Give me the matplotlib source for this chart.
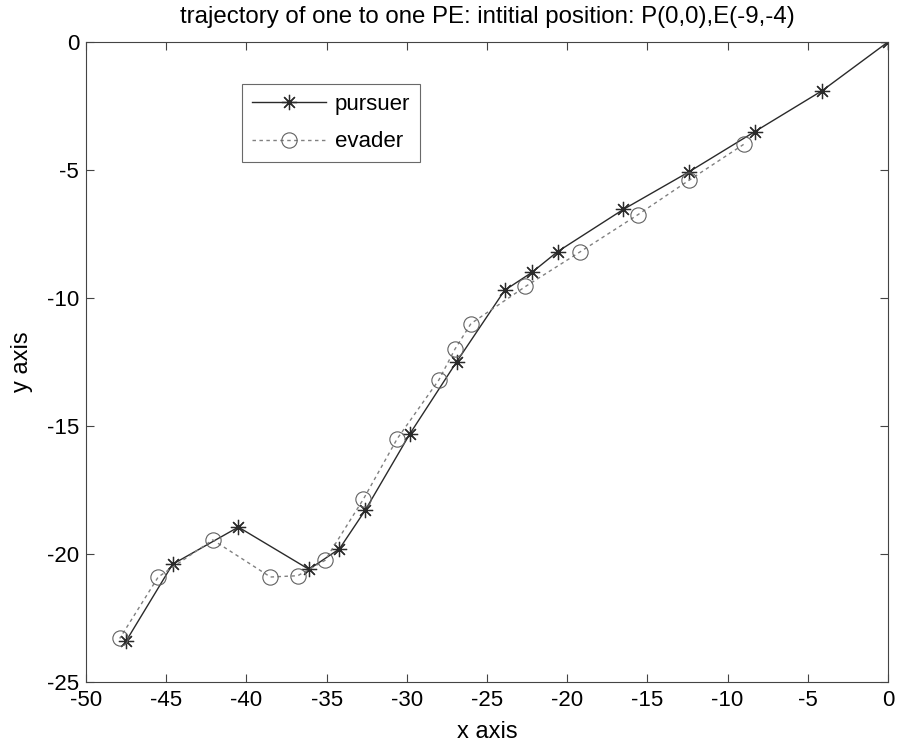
import numpy as np
import matplotlib.pyplot as plt

plt.rcParams['font.family'] = ['Liberation Sans', 'DejaVu Sans']
plt.rcParams['axes.unicode_minus'] = False

# pursuer trajectory, starting at P(0,0)
px = [0.0, -4.1, -8.3, -12.4, -16.5, -20.6, -22.2, -23.9, -26.9, -29.8,
      -32.6, -34.2, -36.1, -40.5, -44.6, -47.5]
py = [0.0, -1.9, -3.5, -5.07, -6.54, -8.19, -9.0, -9.7, -12.5, -15.3,
      -18.3, -19.8, -20.6, -18.95, -20.4, -23.4]

# evader trajectory, starting at E(-9,-4)
ex = [-9.0, -12.4, -15.6, -19.2, -22.6, -26.0, -27.0, -28.0, -30.6, -32.7,
      -35.1, -36.8, -38.5, -42.1, -45.5, -47.9]
ey = [-4.0, -5.4, -6.75, -8.2, -9.55, -11.0, -12.0, -13.2, -15.5, -17.85,
      -20.25, -20.85, -20.9, -19.45, -20.9, -23.3]

fig = plt.figure(figsize=(9, 7.49), dpi=100)
ax = fig.add_axes([0.0956, 0.0895, 0.891, 0.8544])

# MATLAB-style asterisk: 8 spokes
ax.plot(px, py, color='#2a2a2a', lw=1.0, marker=(8, 2, 0), ms=11,
        mew=0.9, label='pursuer')
ax.plot(ex, ey, color='#808080', lw=1.0, ls=(0, (2.5, 2.5)), marker='o', ms=11,
        mfc='none', mec='#606060', mew=0.8, label='evader')

ax.set_xlim(-50, 0)
ax.set_ylim(-25, 0)
ax.set_xticks(np.arange(-50, 1, 5))
ax.set_yticks(np.arange(-25, 1, 5))
ax.tick_params(direction='in', top=True, right=True, labelsize=16, length=6,
               color='#444444')
ax.tick_params(axis='x', pad=6)
ax.tick_params(axis='y', pad=5)
for s in ax.spines.values():
    s.set_color('#444444')

ax.set_title('trajectory of one to one PE: intitial position: P(0,0),E(-9,-4)',
             fontsize=17.3, pad=14)
ax.set_xlabel('x axis', fontsize=17, labelpad=7)
ax.set_ylabel('y axis', fontsize=17, labelpad=10)

leg = ax.legend(loc='upper left', bbox_to_anchor=(0.195, 0.935), fontsize=16,
                fancybox=False, edgecolor='#444444', handlelength=3.3,
                borderpad=0.45, labelspacing=0.75, handletextpad=0.4,
                borderaxespad=0)
leg.get_frame().set_linewidth(0.8)

fig.savefig('out.png', dpi=100)
